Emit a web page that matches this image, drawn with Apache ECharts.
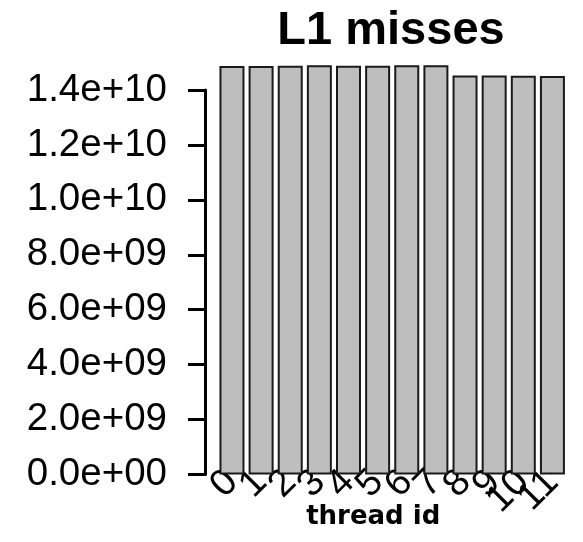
<!DOCTYPE html>
<html>
<head>
<meta charset="utf-8">
<script src="https://cdn.jsdelivr.net/npm/echarts@6/dist/echarts.min.js"></script>
<style>
  html, body { margin: 0; padding: 0; background: #fff; }
  #chart { width: 583px; height: 542px; }
</style>
</head>
<body>
<div id="chart"></div>
<script>
// L1 cache misses per thread
const threadIds = ['0', '1', '2', '3', '4', '5', '6', '7', '8', '9', '10', '11'];
const l1Misses = [
  1.487e10, 1.487e10, 1.488e10, 1.490e10, 1.488e10, 1.488e10,
  1.490e10, 1.490e10, 1.453e10, 1.453e10, 1.452e10, 1.451e10
];
const yTicks = [0, 2e9, 4e9, 6e9, 8e9, 1e10, 1.2e10, 1.4e10];

// R-style scientific label, e.g. 1.4e+10, 0.0e+00
function sci(v) {
  const s = v.toExponential(1);
  const m = s.match(/^(-?[\d.]+)e([+-])(\d+)$/);
  if (!m) return s;
  const exp = m[3].length < 2 ? '0' + m[3] : m[3];
  return m[1] + 'e' + m[2] + exp;
}

const chart = echarts.init(document.getElementById('chart'), null, { renderer: 'canvas' });
chart.setOption({
  animation: false,
  backgroundColor: '#ffffff',
  title: {
    text: 'L1 misses',
    left: 386,
    textAlign: 'center',
    top: 3,
    textStyle: {
      fontFamily: 'Liberation Sans, Arial, sans-serif',
      fontWeight: 'bold',
      fontSize: 47,
      color: '#000'
    }
  },
  grid: {
    left: 217.4,
    right: 16,
    top: 90,
    bottom: 67.5,
    containLabel: false,
    outerBoundsMode: 'none'
  },
  xAxis: {
    type: 'category',
    data: threadIds,
    axisLine: { show: false },
    axisTick: { show: false },
    axisLabel: {
      rotate: 45,
      interval: 0,
      margin: 2,
      fontFamily: 'Liberation Sans, Arial, sans-serif',
      fontSize: 38,
      color: '#000'
    },
    name: 'thread id',
    nameLocation: 'middle',
    nameGap: 30,
    nameMoveOverlap: false,
    nameTextStyle: {
      fontFamily: 'DejaVu Sans, sans-serif',
      fontWeight: 'bold',
      fontSize: 26,
      color: '#000',
      padding: [0, 38, 0, 0]
    }
  },
  yAxis: {
    type: 'value',
    min: 0,
    max: 1.4e10,
    interval: 2e9,
    offset: 12.4,
    splitLine: { show: false },
    axisLine: { show: true, lineStyle: { color: '#000', width: 3 } },
    axisTick: { show: true, length: 17, lineStyle: { color: '#000', width: 3 } },
    axisLabel: {
      formatter: sci,
      margin: 38,
      fontFamily: 'Liberation Sans, Arial, sans-serif',
      fontSize: 38.5,
      color: '#000'
    }
  },
  series: [{
    type: 'bar',
    data: l1Misses,
    clip: false,
    barWidth: 25,
    itemStyle: {
      color: '#bebebe',
      borderColor: '#1a1a1a',
      borderWidth: 2
    }
  }]
});
</script>
</body>
</html>
